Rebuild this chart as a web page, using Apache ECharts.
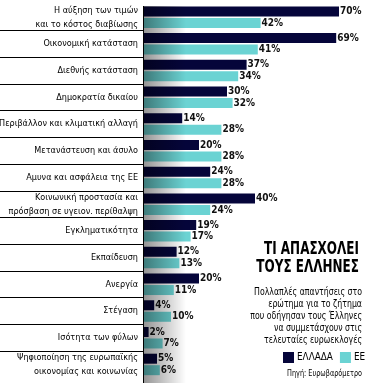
<!DOCTYPE html>
<html lang="el">
<head>
    <meta charset="UTF-8">
    <title>Τι απασχολεί τους Έλληνες</title>
    <script src="https://cdn.jsdelivr.net/npm/echarts@6.0.0/dist/echarts.min.js"></script>
    <style>
        body { margin: 0; background: #fff; }
    </style>
</head>
<body>
    <div id="chart" style="width: 376px; height: 383px;"></div>
    <script type="text/javascript">
        const categories = [
            'Η αύξηση των τιμών\nκαι το κόστος διαβίωσης',
            'Οικονομική κατάσταση',
            'Διεθνής κατάσταση',
            'Δημοκρατία δικαίου',
            'Περιβάλλον και κλιματική αλλαγή',
            'Μετανάστευση και άσυλο',
            'Αμυνα και ασφάλεια της ΕΕ',
            'Κοινωνική προστασία και\nπρόσβαση σε υγειον. περίθαλψη',
            'Εγκληματικότητα',
            'Εκπαίδευση',
            'Ανεργία',
            'Στέγαση',
            'Ισότητα των φύλων',
            'Ψηφιοποίηση της ευρωπαϊκής\nοικονομίας και κοινωνίας'
        ];
        const greece = [70, 69, 37, 30, 14, 20, 24, 40, 19, 12, 20, 4, 2, 5];
        const eu = [42, 41, 34, 32, 28, 28, 28, 24, 17, 13, 11, 10, 7, 6];
        const seriesNames = ['ΕΛΛΑΔΑ', 'ΕΕ'];

        const titleText = 'ΤΙ ΑΠΑΣΧΟΛΕΙ\nΤΟΥΣ ΕΛΛΗΝΕΣ';
        const noteText = 'Πολλαπλές απαντήσεις στο\nερώτημα για το ζήτημα\nπου οδήγησαν τους Έλληνες\nνα συμμετάσχουν στις\nτελευταίες ευρωεκλογές';
        const sourceText = 'Πηγή: Ευρωβαρόμετρο';

        // the print uses a very narrow face; take the narrowest one we have
        // and squeeze the free texts to the widths seen in the picture
        const NARROW = '"Liberation Sans Narrow", "DejaVu Sans Condensed", "Liberation Sans", sans-serif';
        const ctx = document.createElement('canvas').getContext('2d');
        function widthOf(str, font) {
            ctx.font = font + ' ' + NARROW;
            return ctx.measureText(str).width;
        }
        const clamp = (v, lo, hi) => Math.max(lo, Math.min(hi, v));

        const labelSize = clamp(11 * 88 / widthOf('Οικονομική κατάσταση', '11px'), 9, 11);
        const valueSize = clamp(12 * 20 / widthOf('70%', 'bold 12px'), 10, 12);
        const legendSize = clamp(11 * 36 / widthOf('ΕΛΛΑΔΑ', '11px'), 9, 11);
        const titleScale = 95 / widthOf('ΤΙ ΑΠΑΣΧΟΛΕΙ', 'bold 18px');
        const noteScale = 108 / widthOf('Πολλαπλές απαντήσεις στο', '11px');
        const sourceScale = 75 / widthOf(sourceText, '9px');

        const gridTop = 3.8, gridHeight = 374;

        let chart = echarts.init(document.getElementById('chart'), null, { renderer: 'canvas' });

        const valueLabel = {
            show: true,
            position: 'right',
            distance: 1,
            formatter: '{c}%',
            color: '#111',
            fontFamily: NARROW,
            fontWeight: 'bold',
            fontSize: valueSize
        };

        chart.setOption({
            animation: false,
            grid: [
                { left: 143, top: gridTop, width: 224, height: gridHeight, outerBoundsMode: 'none', containLabel: false },
                { left: 0, top: gridTop, width: 143, height: gridHeight, outerBoundsMode: 'none', containLabel: false }
            ],
            xAxis: [
                { gridIndex: 0, type: 'value', min: 0, max: 80, show: false },
                { gridIndex: 1, type: 'value', min: 0, max: 1, show: false }
            ],
            yAxis: [
                {
                    gridIndex: 0,
                    type: 'category',
                    inverse: true,
                    data: categories,
                    axisLine: { show: false },
                    axisTick: { show: false },
                    axisLabel: {
                        margin: 5,
                        color: '#000',
                        fontFamily: NARROW,
                        fontSize: labelSize,
                        lineHeight: 14,
                        padding: [0, 0, 3, 0]
                    }
                },
                {
                    gridIndex: 1,
                    type: 'category',
                    inverse: true,
                    data: categories,
                    axisLine: { show: false },
                    axisTick: { show: false },
                    axisLabel: { show: false },
                    splitLine: {
                        show: true,
                        showMinLine: false,
                        showMaxLine: false,
                        lineStyle: { color: '#000', width: 1 }
                    }
                }
            ],
            legend: {
                left: 283,
                top: 352,
                width: 93,
                padding: 0,
                itemWidth: 11,
                itemHeight: 11,
                itemGap: 7,
                icon: 'rect',
                data: seriesNames,
                textStyle: {
                    fontFamily: NARROW,
                    fontSize: legendSize,
                    color: '#000',
                    padding: [0, 0, 0, -2]
                }
            },
            series: [
                {
                    name: seriesNames[0],
                    type: 'bar',
                    data: greece,
                    barWidth: 10,
                    barGap: '15%',
                    itemStyle: { color: '#05053a' },
                    label: valueLabel
                },
                {
                    name: seriesNames[1],
                    type: 'bar',
                    data: eu,
                    barWidth: 10,
                    itemStyle: { color: '#6bd3d3' },
                    label: valueLabel
                }
            ],
            graphic: [
                {
                    type: 'rect',
                    silent: true,
                    z: 100,
                    shape: { x: 144, y: 6, width: 42, height: 377 },
                    style: {
                        fill: new echarts.graphic.LinearGradient(0, 0, 1, 0, [
                            { offset: 0, color: 'rgba(0,0,0,0.42)' },
                            { offset: 1, color: 'rgba(0,0,0,0)' }
                        ])
                    }
                },
                {
                    type: 'rect',
                    silent: true,
                    z: 101,
                    shape: { x: 143, y: 6, width: 1, height: 377 },
                    style: { fill: '#000' }
                },
                {
                    type: 'text',
                    x: 359, y: 240,
                    scaleX: titleScale,
                    style: {
                        text: titleText,
                        font: 'bold 18px ' + NARROW,
                        fill: '#000',
                        align: 'right',
                        verticalAlign: 'top',
                        lineHeight: 18
                    }
                },
                {
                    type: 'text',
                    x: 362, y: 286,
                    scaleX: noteScale,
                    style: {
                        text: noteText,
                        font: '11px ' + NARROW,
                        fill: '#000',
                        align: 'right',
                        verticalAlign: 'top',
                        lineHeight: 12
                    }
                },
                {
                    type: 'text',
                    x: 362, y: 369,
                    scaleX: sourceScale,
                    style: {
                        text: sourceText,
                        font: '9px ' + NARROW,
                        fill: '#000',
                        align: 'right',
                        verticalAlign: 'top'
                    }
                }
            ]
        });
    </script>
</body>
</html>
